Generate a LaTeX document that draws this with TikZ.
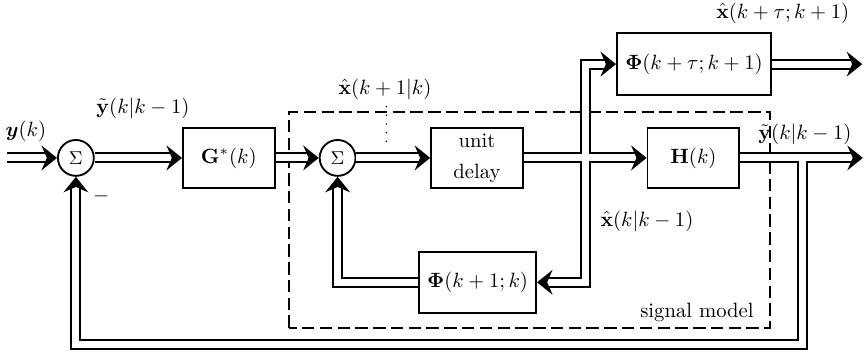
\documentclass[tikz,border=0pt]{standalone}
\usepackage{amsmath,amssymb}
\usetikzlibrary{arrows.meta,calc}
\tikzset{
  blk/.style={draw,line width=0.9pt,minimum width=1.56cm,minimum height=1.03cm,
              inner sep=2pt,align=center},
  sumnode/.style={circle,draw,line width=0.9pt,minimum size=0.61cm,inner sep=0pt,
                  font=\small},
  sig/.style={double,double distance=3.4pt,line width=0.95pt,
              -{Stealth[length=7.5pt,width=12pt,inset=2.6pt]}},
  gapfill/.style={white,line width=3.4pt},
  frame/.style={line width=0.9pt,dash pattern=on 6pt off 2.6pt},
  tapline/.style={line width=0.8pt,line cap=round,dash pattern=on 0pt off 4.2pt},
}
\begin{document}
\begin{tikzpicture}
    \useasboundingbox (0,0) rectangle (14.69,6.0);
    % signal model frame
    \draw[frame] (4.91,0.425) rectangle (13.09,4.10);
    \node (lblmodel) at (11.85,0.68) {signal model};

    \node[sumnode] (sum1) at (1.29,3.315) {$\Sigma$};
    \node[blk] (gain) at (3.89,3.315) {$\mathbf{G}^*(k)$};
    \node[sumnode] (sum2) at (5.74,3.315) {$\Sigma$};
    \node[blk] (delay) at (8.11,3.315) {unit\\[3pt]delay};
    \node[blk] (meas) at (11.79,3.315) {$\mathbf{H}(k)$};
    \node[blk,minimum width=2.62cm,minimum height=1.05cm] (predict) at (11.80,4.91) {$\boldsymbol{\Phi}(k+\tau;k+1)$};
    \node[blk,minimum width=1.99cm] (trans) at (8.12,1.20) {$\boldsymbol{\Phi}(k+1;k)$};

    \coordinate (yin) at (0.12,3.315);
    \coordinate (split) at (9.95,3.315);
    \coordinate (tap) at (13.65,3.315);
    \coordinate (yout) at (14.67,3.315);
    \coordinate (xout) at (14.66,4.91);
    \coordinate (fbcorner) at (13.65,0.136);
    \coordinate (xtap) at (6.57,3.54);

    % forward path
    \draw[sig] (yin) -- (sum1);
    \draw[sig] (sum1) -- (gain);
    \draw[sig] (gain) -- (sum2);
    \draw[sig] (sum2) -- (delay);
    \draw[sig] (delay) -- (meas);
    \draw[sig] (split) |- (predict.west);
    \draw[sig] (split) |- (trans.east);
    \draw[gapfill] ($(split)+(-0.15,0)$) -- ($(split)+(0.15,0)$);
    \draw[sig] (trans.west) -| (sum2.south);
    \draw[sig] (predict) -- (xout);
    \draw[sig] (meas) -- (yout);
    % feedback
    \draw[sig] (tap) -- (fbcorner) -| (sum1.south);
    \draw[gapfill] ($(tap)+(-0.15,0)$) -- ($(tap)+(0.15,0)$);

    % labels
    \node (lblyk) at (0.44,3.77) {$\boldsymbol{y}(k)$};
    \node (lblerr) at (2.43,4.165) {$\tilde{\mathbf{y}}(k|k-1)$};
    \node (lblminus) at (1.72,2.67) {$-$};
    \node (lblxnext) at (6.545,4.488) {$\hat{\mathbf{x}}(k+1|k)$};
    \draw[tapline] (lblxnext.south -| xtap) -- (xtap);
    \node (lblxtau) at (13.31,5.78) {$\hat{\mathbf{x}}(k+\tau;k+1)$};
    \node (lblyout) at (13.685,3.72) {$\tilde{\mathbf{y}}(k|k-1)$};
    \node (lblxcur) at (11.0,2.244) {$\hat{\mathbf{x}}(k|k-1)$};
\end{tikzpicture}
\end{document}
